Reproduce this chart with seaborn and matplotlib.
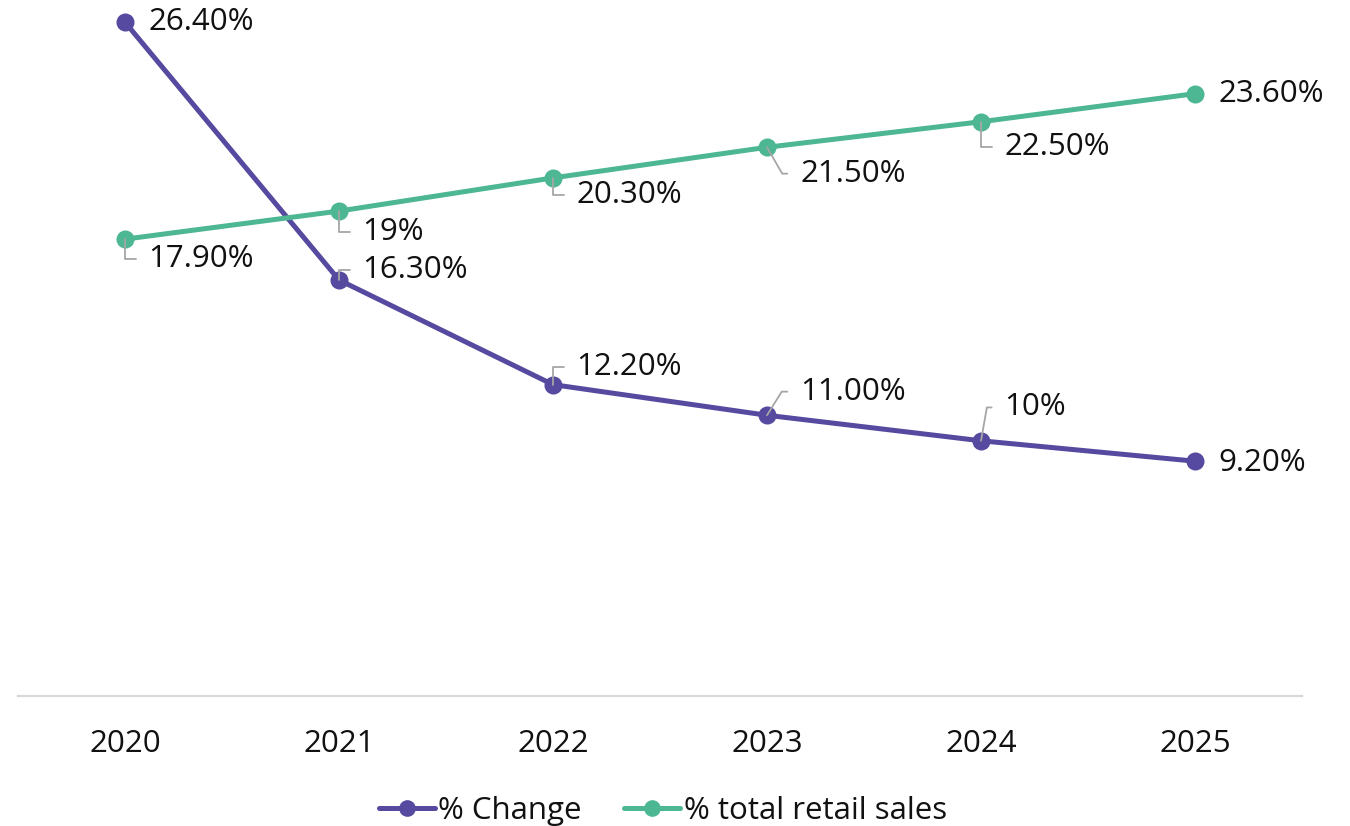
import matplotlib
matplotlib.use("Agg")
import matplotlib.pyplot as plt
import seaborn as sns
import pandas as pd
from matplotlib.lines import Line2D

years = ["2020", "2021", "2022", "2023", "2024", "2025"]
pct_change = [26.4, 16.3, 12.2, 11.0, 10.0, 9.2]
pct_change_labels = ["26.40%", "16.30%", "12.20%", "11.00%", "10%", "9.20%"]
pct_retail = [17.9, 19.0, 20.3, 21.5, 22.5, 23.6]
pct_retail_labels = ["17.90%", "19%", "20.30%", "21.50%", "22.50%", "23.60%"]
series_names = ["% Change", "% total retail sales"]

PURPLE = "#554a9f"
GREEN = "#4db693"
TEXT = "#111111"

sns.set_theme(style="white")
plt.rcParams["font.family"] = ["Open Sans", "DejaVu Sans"]

df = pd.DataFrame({
    "year": years * 2,
    "value": pct_change + pct_retail,
    "series": [series_names[0]] * len(years) + [series_names[1]] * len(years),
})

fig = plt.figure(figsize=(13.5, 8.26), dpi=100)
ax = fig.add_axes([18 / 1350, 130 / 826, 1284 / 1350, 696 / 826])

sns.lineplot(data=df, x="year", y="value", hue="series", hue_order=series_names,
             palette=[PURPLE, GREEN], marker="o", markersize=13, markeredgewidth=0,
             linewidth=3.6, sort=False, ax=ax, legend=False)

ax.set_xlim(-0.5, len(years) - 0.5)
ax.set_ylim(0, 27.27)
ax.set_xlabel("")
ax.set_ylabel("")
ax.set_yticks([])
for s in ["top", "right", "left"]:
    ax.spines[s].set_visible(False)
ax.spines["bottom"].set_color("#d9d9d9")
ax.spines["bottom"].set_linewidth(1.6)

FS = 22.5
ax.tick_params(axis="x", length=0, pad=23.5, labelsize=FS, labelcolor=TEXT)


def leader(angle_b):
    return dict(arrowstyle="-", color="#a6a6a6", lw=1.3,
                connectionstyle=f"angle,angleA=0,angleB={angle_b},rad=0",
                shrinkA=7, shrinkB=0, relpos=(0, 0.5))


# offsets (points) for labels: (dx, dy, leader angle or None)
change_off = [(17, 0, None), (17, 7, 90), (17, 13, 90), (24, 17, 58), (17, 24, 80), (17, -1, None)]
retail_off = [(17, -14, 90), (17, -15, 90), (17, -12, 90), (24, -19, -60), (17, -18, 90), (17, 0, None)]

for vals, labs, offs in [(pct_change, pct_change_labels, change_off),
                         (pct_retail, pct_retail_labels, retail_off)]:
    for i, (v, lab, (dx, dy, ang)) in enumerate(zip(vals, labs, offs)):
        kw = dict(arrowprops=leader(ang)) if ang is not None else {}
        ax.annotate(lab, xy=(i, v), xytext=(dx, dy), textcoords="offset points",
                    ha="left", va="center", fontsize=FS, color=TEXT, **kw)

handles = [Line2D([0], [0], color=c, lw=3.6, marker="o", markersize=12, markeredgewidth=0)
           for c in [PURPLE, GREEN]]
fig.legend(handles, series_names, loc="center", bbox_to_anchor=(0.491, 0.018), ncol=2,
           frameon=False, fontsize=FS, handlelength=1.8, handletextpad=0.1,
           columnspacing=1.35, labelcolor=TEXT)

fig.savefig("out.png", dpi=100)
